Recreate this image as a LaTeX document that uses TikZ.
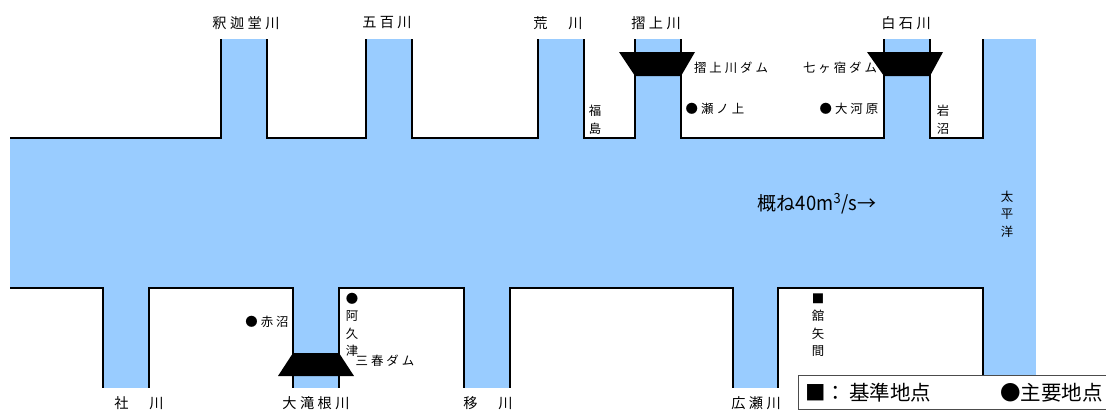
\documentclass[tikz,border=0pt]{standalone}
\usepackage{fontspec}
\newfontfamily\jpfont[LetterSpace=24]{Noto Sans CJK JP}
\newfontfamily\jptight{Noto Sans CJK JP}
\definecolor{waterblue}{RGB}{153,204,255}
\tikzset{
  shore/.style={line width=2pt,line cap=rect,line join=miter},
  dam/.style={fill=black,draw=none},
  rivername/.style={inner sep=0pt,font=\jpfont\fontsize{14.2}{17}\selectfont},
  placename/.style={inner sep=0pt,font=\jpfont\fontsize{12.4}{17.5}\selectfont,align=center},
  legendname/.style={inner sep=0pt,anchor=west,font=\jptight\fontsize{20.5}{22}\selectfont},
}
\begin{document}
\begin{tikzpicture}[x=1pt,y=-1pt]
\useasboundingbox (0,0) rectangle (1106,410);
% water
\fill[waterblue] (10,139) rectangle (1036,288);
\fill[waterblue] (221,39) rectangle (267,139);
\fill[waterblue] (366,39) rectangle (412,139);
\fill[waterblue] (538,39) rectangle (584,139);
\fill[waterblue] (635,39) rectangle (681,139);
\fill[waterblue] (884,39) rectangle (930,139);
\fill[waterblue] (983,39) rectangle (1036,376);
\fill[waterblue] (103,288) rectangle (149,388);
\fill[waterblue] (293,288) rectangle (339,388);
\fill[waterblue] (464,288) rectangle (510,388);
\fill[waterblue] (733,288) rectangle (778,388);

% shore lines
\draw[shore] (11,138) -- (221,138) -- (221,40);
\draw[shore] (267,40) -- (267,138) -- (366,138) -- (366,40);
\draw[shore] (412,40) -- (412,138) -- (538,138) -- (538,40);
\draw[shore] (584,40) -- (584,138) -- (635,138) -- (635,40);
\draw[shore] (681,40) -- (681,138) -- (884,138) -- (884,40);
\draw[shore] (930,40) -- (930,138) -- (983,138) -- (983,40);
\draw[shore] (11,288) -- (103,288) -- (103,387);
\draw[shore] (149,387) -- (149,288) -- (293,288) -- (293,387);
\draw[shore] (339,387) -- (339,288) -- (464,288) -- (464,387);
\draw[shore] (510,387) -- (510,288) -- (733,288) -- (733,387);
\draw[shore] (778,387) -- (778,288) -- (983,288) -- (983,376);

% dams
\fill[dam] (619,52) -- (695,52) -- (681,76) -- (635,76) -- cycle;
\fill[dam] (867,52) -- (943,52) -- (930,76) -- (884,76) -- cycle;
\fill[dam] (293,353) -- (339,353) -- (354,376) -- (278,376) -- cycle;

% rivers
\node[rivername] (shaka) at (246,23) {釈迦堂川};
\node[rivername] (gohyaku) at (387,23) {五百川};
\node[rivername] (ara) at (558,23) {荒　川};
\node[rivername] (surikami) at (656,23) {摺上川};
\node[rivername] (shiroishi) at (906,23) {白石川};
\node[rivername] (yashiro) at (139,403) {社　川};
\node[rivername] (otakine) at (316,403) {大滝根川};
\node[rivername] (utsushi) at (488,403) {移　川};
\node[rivername] (hirose) at (756,403) {広瀬川};

% places
\node[placename] (surikamidam) at (731,68) {摺上川ダム};
\node[placename] (shichikadam) at (840,68) {七ヶ宿ダム};
\node[placename] (senoue) at (715,109) {●瀬ノ上};
\node[placename] (ogawara) at (849,109) {●大河原};
\node[placename] (fukushima) at (595,120) {福\\島};
\node[placename] (iwanuma) at (943,120) {岩\\沼};
\node[placename] (taiheiyo) at (1007,214) {太\\平\\洋};
\node[placename] (akanuma) at (267,322) {●赤沼};
\node[placename] (akutsu) at (352,325) {●\\阿\\久\\津};
\node[placename] (miharudam) at (385,361) {三春ダム};
\node[placename] (tateyama) at (818,325) {■\\舘\\矢\\間};
\node[inner sep=0pt,font=\jptight\fontsize{19}{22}\selectfont] (flow) at (817,204)
  {概ね\scalebox{.97}[1.05]{40m\textsuperscript{3}/s}→};

% legend
\node[draw=black!70,line width=1pt,fill=white,minimum width=308pt,minimum height=34pt,inner sep=0pt,anchor=north west] (legendbox) at (798,375) {};
\node[legendname] (kijun) at (805,393) {■：\hspace{3pt}基準地点};
\node[legendname] (shuyo) at (1000,393) {●主要地点};
\end{tikzpicture}
\end{document}
